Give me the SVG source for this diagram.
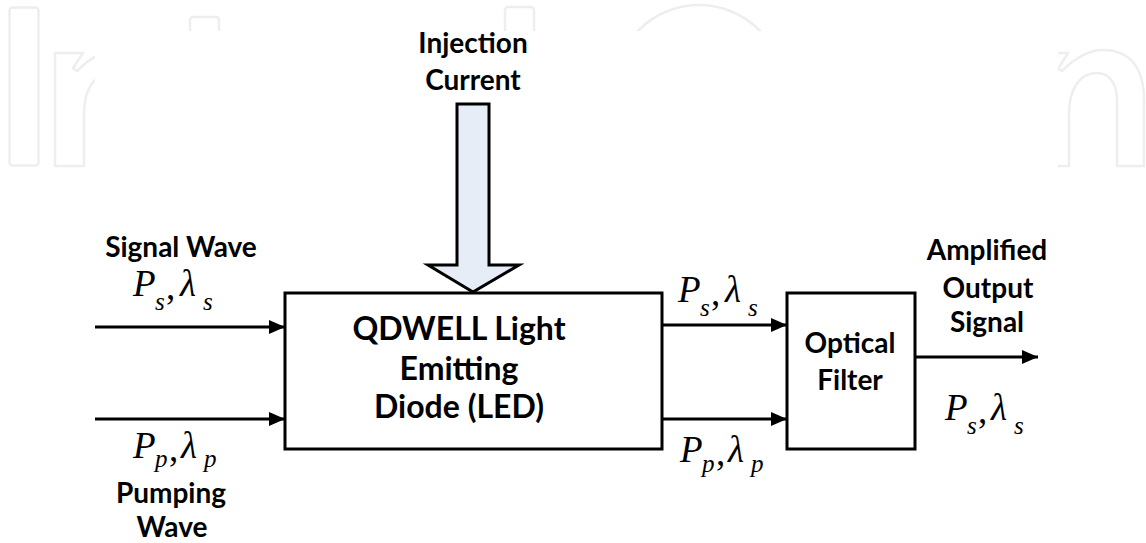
<svg xmlns="http://www.w3.org/2000/svg" width="1146" height="543" viewBox="0 0 1146 543">
<style>
.wm{fill:none;stroke:#eeeeee;stroke-width:2.5;stroke-linejoin:round}
.lbl{font-family:Lato,"Liberation Sans",sans-serif;font-weight:bold;fill:#000;text-anchor:middle}
.big{font-size:32px}
.med{font-size:28px}
.m{font-family:"Liberation Serif","Times New Roman",serif;font-style:italic;fill:#000}
.mb{font-size:37px}
.ms{font-size:25px}
.mc{font-family:"Liberation Serif","Times New Roman",serif;font-size:37px;fill:#000}
.box{fill:#fff;stroke:#000;stroke-width:3}
.con{stroke:#000;stroke-width:3;fill:none}
</style>
<defs>
<marker id="ah" markerUnits="userSpaceOnUse" markerWidth="16" markerHeight="14" refX="16" refY="7" orient="auto">
<path d="M0,0 L16,7 L0,14 Z" fill="#000"/>
</marker>
</defs>
<rect width="1146" height="543" fill="#fff"/>
<g id="watermark">
<rect class="wm" x="9.5" y="7.5" width="29" height="158" rx="3"/>
<path class="wm" d="M77,71 C90,58 103,50 118,50 C145,50 159,68 159,100 L159,166 L132,166 L132,100 C132,82 123,73 112,73 C95,73 84,88 84,115 L84,166 L55,166 L55,53 L83,53 L73,68 Z"/>
<rect class="wm" x="190" y="17" width="29" height="100" rx="3"/>
<rect class="wm" x="505" y="7" width="29" height="159" rx="3"/>
<ellipse class="wm" cx="699" cy="90" rx="85" ry="85"/>
<path class="wm" d="M1062,71 C1075,58 1088,50 1103,50 C1130,50 1144,68 1144,100 L1144,166 L1117,166 L1117,100 C1117,82 1108,73 1097,73 C1080,73 1069,88 1069,115 L1069,166 L1040,166 L1040,53 L1068,53 L1058,69 Z"/>
<rect x="95" y="31" width="963" height="512" fill="#fff"/>
</g>
<g id="connectors">
<line class="con" x1="95" y1="327" x2="285" y2="327" marker-end="url(#ah)"/>
<line class="con" x1="95" y1="419" x2="285" y2="419" marker-end="url(#ah)"/>
<line class="con" x1="662" y1="325" x2="787" y2="325" marker-end="url(#ah)"/>
<line class="con" x1="662" y1="419" x2="787" y2="419" marker-end="url(#ah)"/>
<line class="con" x1="915" y1="357" x2="1038" y2="357" marker-end="url(#ah)"/>
</g>
<g id="led">
<rect class="box" x="285" y="293" width="377" height="156"/>
<text class="lbl big" x="459" y="340">QDWELL Light</text>
<text class="lbl big" x="459" y="380">Emitting</text>
<text class="lbl big" x="459" y="418">Diode (LED)</text>
</g>
<g id="injection">
<path d="M457,104 L489,104 L489,265 L519,265 L473,292 L428,265 L457,265 Z" fill="#e6edf7" stroke="#000" stroke-width="3" stroke-linejoin="miter"/>
<text class="lbl med" x="473" y="53">Injection</text>
<text class="lbl med" x="473" y="90">Current</text>
</g>
<g id="filter">
<rect class="box" x="787" y="293" width="128" height="156"/>
<text class="lbl med" x="850" y="353">Optical</text>
<text class="lbl med" x="850" y="390">Filter</text>
</g>
<g id="signal-in">
<text class="lbl med" x="181" y="257">Signal Wave</text>
<text class="m mb" x="133" y="296">P</text><text class="m ms" x="155" y="310">s</text>
<text class="mc" x="166" y="299">,</text>
<text class="m mb" x="180" y="296">λ</text><text class="m ms" x="203" y="310">s</text>
</g>
<g id="pump-in">
<text class="m mb" x="133" y="458">P</text><text class="m ms" x="155" y="467">p</text>
<text class="mc" x="169" y="461">,</text>
<text class="m mb" x="181" y="458">λ</text><text class="m ms" x="204" y="467">p</text>
<text class="lbl med" x="171" y="503">Pumping</text>
<text class="lbl med" x="172" y="537">Wave</text>
</g>
<g id="signal-mid">
<text class="m mb" x="678" y="302">P</text><text class="m ms" x="700" y="316">s</text>
<text class="mc" x="711" y="305">,</text>
<text class="m mb" x="725" y="302">λ</text><text class="m ms" x="748" y="316">s</text>
</g>
<g id="pump-mid">
<text class="m mb" x="680" y="462">P</text><text class="m ms" x="702" y="472">p</text>
<text class="mc" x="716" y="465">,</text>
<text class="m mb" x="728" y="462">λ</text><text class="m ms" x="751" y="472">p</text>
</g>
<g id="output">
<text class="lbl med" x="987" y="260">Amplified</text>
<text class="lbl med" x="988" y="298">Output</text>
<text class="lbl med" x="987" y="332">Signal</text>
<text class="m mb" x="945" y="420">P</text><text class="m ms" x="967" y="434">s</text>
<text class="mc" x="978" y="423">,</text>
<text class="m mb" x="991" y="420">λ</text><text class="m ms" x="1014" y="434">s</text>
</g>
</svg>
